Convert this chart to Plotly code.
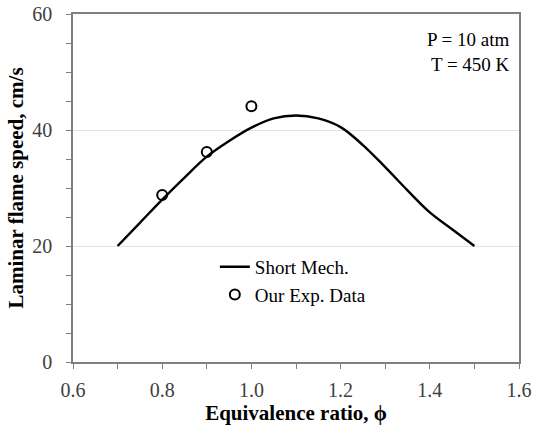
import plotly.graph_objects as go

# Short mechanism prediction: laminar flame speed vs equivalence ratio
phi_model = [0.70, 0.75, 0.80, 0.85, 0.90, 0.95, 1.00, 1.05, 1.10,
             1.15, 1.20, 1.25, 1.30, 1.35, 1.40, 1.45, 1.50]
sl_model = [20.0, 24.0, 28.0, 31.8, 35.4, 38.1, 40.4, 42.0, 42.5,
            42.0, 40.5, 37.4, 33.6, 29.6, 25.8, 22.9, 20.0]

# Experimental measurements
phi_exp = [0.8, 0.9, 1.0]
sl_exp = [28.8, 36.2, 44.1]

x_ticks = [0.6, 0.8, 1.0, 1.2, 1.4, 1.6]
x_ticklabels = ["0.6", "0.8", "1.0", "1.2", "1.4", "1.6"]
y_ticks = [0, 20, 40, 60]

font_family = "Liberation Serif, Times New Roman, serif"

fig = go.Figure()
fig.add_trace(go.Scatter(
    x=phi_model, y=sl_model, mode="lines", name="Short Mech.",
    line=dict(color="black", width=2.4, shape="spline", smoothing=1.0),
))
fig.add_trace(go.Scatter(
    x=phi_exp, y=sl_exp, mode="markers", name="Our Exp. Data",
    marker=dict(symbol="circle-open", size=10, color="black",
                line=dict(width=2, color="black")),
))

axis_common = dict(
    showline=True, linecolor="#7f7f7f", linewidth=1.5, mirror=True,
    ticks="outside", ticklen=5, tickcolor="#7f7f7f", tickwidth=1,
    zeroline=False, automargin=False,
    tickfont=dict(family=font_family, size=20, color="#404040"),
)

fig.update_xaxes(
    range=[0.6, 1.6], tickvals=x_ticks, ticktext=x_ticklabels,
    showgrid=False, ticklabelstandoff=4,
    minor=dict(dtick=0.1, tick0=0.6, ticks="outside", ticklen=5,
               tickcolor="#7f7f7f", showgrid=False),
    title=dict(text="<b>Equivalence ratio, ϕ</b>",
               font=dict(family=font_family, size=21, color="black"),
               standoff=6),
    **axis_common,
)
fig.update_yaxes(
    range=[0, 60], tickvals=y_ticks,
    showgrid=True, gridcolor="#e3e3e3", gridwidth=1,
    ticklabelstandoff=10,
    minor=dict(dtick=5, tick0=0, ticks="outside", ticklen=5,
               tickcolor="#7f7f7f", showgrid=False),
    title=dict(text="<b>Laminar flame speed, cm/s</b>",
               font=dict(family=font_family, size=21, color="black"),
               standoff=3),
    **axis_common,
)

fig.add_annotation(
    x=0.985, y=0.963, xref="paper", yref="paper",
    xanchor="right", yanchor="top", align="right", showarrow=False,
    text="P = 10 atm<br>T = 450 K",
    font=dict(family=font_family, size=19, color="black"),
)

fig.update_layout(
    width=533, height=432,
    margin=dict(l=73, r=14, t=14, b=70),
    paper_bgcolor="white", plot_bgcolor="white",
    showlegend=True,
    legend=dict(
        x=0.318, y=0.233, xanchor="left", yanchor="middle",
        bgcolor="rgba(0,0,0,0)", itemwidth=30, tracegroupgap=0,
        font=dict(family=font_family, size=19, color="black"),
    ),
)

fig.write_html("out.html")
